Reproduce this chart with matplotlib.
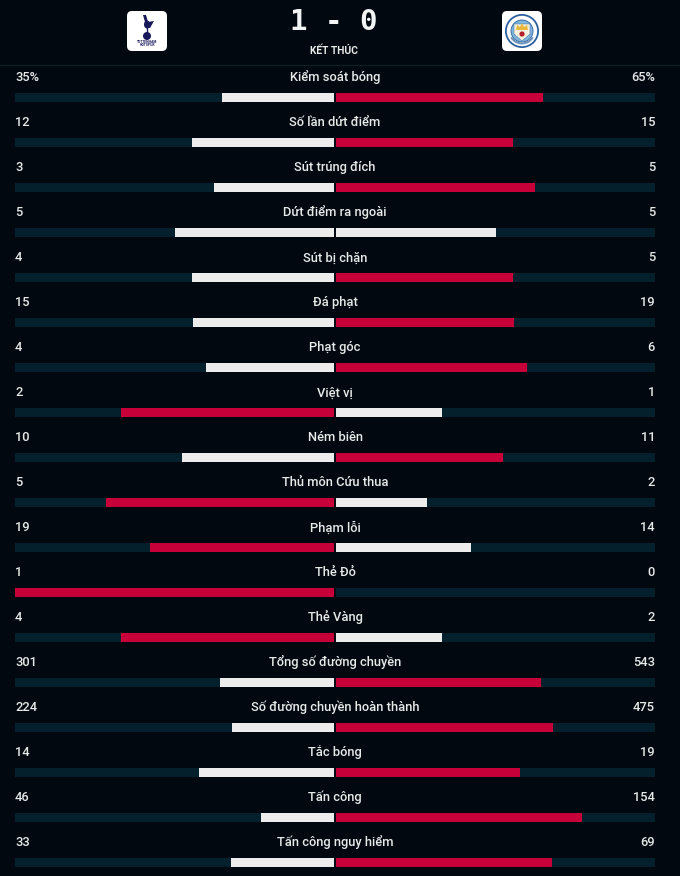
import matplotlib
matplotlib.use("Agg")
import matplotlib.pyplot as plt
from matplotlib.patches import FancyBboxPatch, Circle, Ellipse, Polygon, Wedge

categories = ["Kiểm soát bóng", "Số lần dứt điểm", "Sút trúng đích", "Dứt điểm ra ngoài",
              "Sút bị chặn", "Đá phạt", "Phạt góc", "Việt vị", "Ném biên", "Thủ môn Cứu thua",
              "Phạm lỗi", "Thẻ Đỏ", "Thẻ Vàng", "Tổng số đường chuyền",
              "Số đường chuyền hoàn thành", "Tắc bóng", "Tấn công", "Tấn công nguy hiểm"]
home_values = [35, 12, 3, 5, 4, 15, 4, 2, 10, 5, 19, 1, 4, 301, 224, 14, 46, 33]
away_values = [65, 15, 5, 5, 5, 19, 6, 1, 11, 2, 14, 0, 2, 543, 475, 19, 154, 69]
home_labels = ["35%"] + [str(v) for v in home_values[1:]]
away_labels = ["65%"] + [str(v) for v in away_values[1:]]
score_text = "1-0"
status_text = "KẾT THÚC"

BG = "#01080f"; TRACK = "#04202c"; RED = "#c8003a"; WHITE = "#ececec"; TEXT = "#e8eaea"; LINE = "#07212b"
FONT = "Roboto"
W, H = 680, 876
fig = plt.figure(figsize=(W/100, H/100), dpi=100, facecolor=BG)

# row axes: x is share of the total, row index on y
ROW = 45.0
top_px = 97.5 - ROW/2
n = len(categories)
ax = fig.add_axes([15/W, 1 - (top_px + n*ROW)/H, 640/W, n*ROW/H])
ax.set_xlim(-1, 1); ax.set_ylim(n - .5, -.5); ax.axis("off")
gap = 1/320
bar_h = 9/ROW
for i, (a, b) in enumerate(zip(home_values, away_values)):
    total = a + b
    ax.barh(i, -(1 - gap), left=-gap, height=bar_h, color=TRACK, lw=0)
    ax.barh(i, 1 - gap, left=gap, height=bar_h, color=TRACK, lw=0)
    ax.barh(i, -(1 - gap) * a / total, left=-gap, height=bar_h, color=RED if a > b else WHITE, lw=0)
    ax.barh(i, (1 - gap) * b / total, left=gap, height=bar_h, color=RED if b > a else WHITE, lw=0)
    ax.annotate(categories[i], (0, i), xytext=(0, 11.6), textcoords="offset points", ha="center", va="baseline",
                color=TEXT, fontsize=9.3, family=FONT, weight="medium")
    ax.annotate(home_labels[i], (-1, i), xytext=(0, 11.6), textcoords="offset points", ha="left", va="baseline",
                color=TEXT, fontsize=9.3, family=FONT, weight="medium")
    ax.annotate(away_labels[i], (1, i), xytext=(0, 11.6), textcoords="offset points", ha="right", va="baseline",
                color=TEXT, fontsize=9.3, family=FONT, weight="medium")

# header axes in pixel coordinates
hd = fig.add_axes([0, 0, 1, 1]); hd.set_xlim(0, W); hd.set_ylim(H, 0); hd.axis("off"); hd.patch.set_alpha(0)
hd.plot([0, W], [64.5, 64.5], color=LINE, lw=0.8)
hd.text(334, 22, score_text[0] + " - " + score_text[2], ha="center", va="center", color="#f2f4f5", fontsize=21,
        family="DejaVu Sans Mono", weight="bold")
hd.text(334, 51, status_text, ha="center", va="center", color=TEXT, fontsize=7.4, family=FONT, weight="bold")

for x0 in (127, 502):
    hd.add_patch(FancyBboxPatch((x0 + 5, 16), 30, 30, boxstyle="round,pad=5,rounding_size=5", fc="white", ec="none"))
# Spurs crest
NAVY = "#16185a"
cx = 147
hd.add_patch(Ellipse((cx, 24.5), 6, 8, fc=NAVY, ec="none"))
hd.add_patch(Polygon([(cx-4, 15), (cx-1, 15), (cx+1, 22), (cx-2, 22)], fc=NAVY, ec="none"))
hd.add_patch(Polygon([(cx+1, 22), (cx+7, 21), (cx+3, 28), (cx, 28)], fc=NAVY, ec="none"))
hd.plot([cx, cx], [28, 32], color=NAVY, lw=1)
hd.add_patch(Circle((cx, 36), 4, fc=NAVY, ec="none"))
hd.text(cx, 43.5, "TOTTENHAM\nHOTSPUR", ha="center", va="center", fontsize=2.4, color=NAVY, family=FONT, weight="bold", linespacing=0.9)
# City crest
cx, cy = 522, 31
hd.add_patch(Circle((cx, cy), 17, fc="#2a5f9e", ec="none"))
hd.add_patch(Circle((cx, cy), 15.2, fc="white", ec="none"))
hd.add_patch(Circle((cx, cy), 11, fc="#7fb6dc", ec="#2a5f9e", lw=0.6))
hd.add_patch(Polygon([(cx-8, cy-7), (cx+8, cy-7), (cx+8, cy+3), (cx, cy+10), (cx-8, cy+3)], fc="#f4f0dc", ec="#2a5f9e", lw=0.3))
hd.add_patch(Polygon([(cx-6, cy-1), (cx-5, cy-6), (cx-2, cy-4), (cx, cy-8), (cx+2, cy-4), (cx+5, cy-6), (cx+6, cy-1)], fc="#eab83c", ec="none"))
hd.add_patch(Circle((cx, cy+3), 2.6, fc="#b3202c", ec="none"))
hd.add_patch(Wedge((cx, cy), 13.5, 30, 150, width=2, fc="#6f93b8", ec="none"))

fig.savefig("out.png", dpi=100, facecolor=BG)
